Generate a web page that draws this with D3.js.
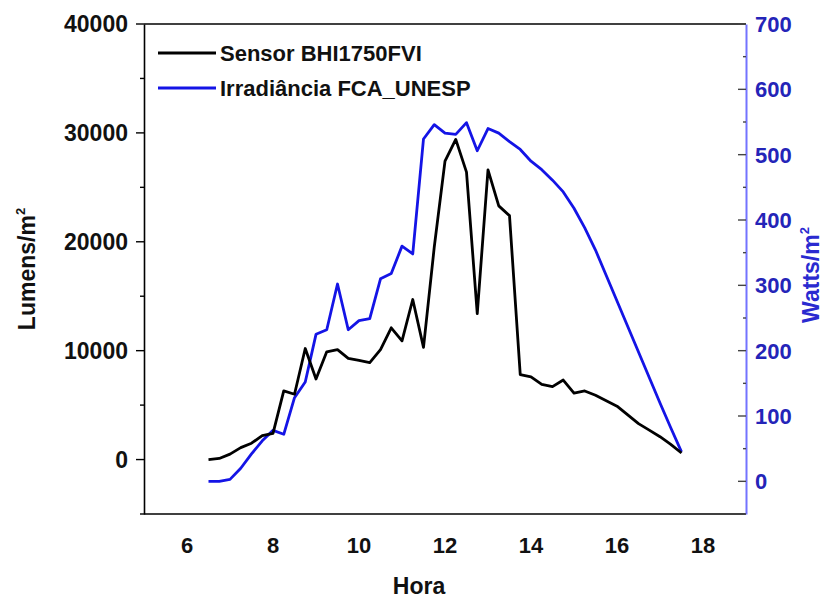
<!DOCTYPE html>
<html><head><meta charset="utf-8">
<script src="https://cdn.jsdelivr.net/npm/d3@7"></script>
<style>body{margin:0;background:#fff}svg{display:block}text{font-family:"Liberation Sans",Arial,sans-serif;font-weight:bold}</style>
</head><body>
<svg id="c" width="832" height="599"></svg>
<script>
const hours = [6.5,6.75,7,7.25,7.5,7.75,8,8.25,8.5,8.75,9,9.25,9.5,9.75,10,10.25,10.5,10.75,11,11.25,11.5,11.75,12,12.25,12.5,12.75,13,13.25,13.5,13.75,14,14.25,14.5,14.75,15,15.25,15.5,15.75,16,16.25,16.5,16.75,17,17.25,17.5];
const sensorLumens = [0,100,500,1100,1500,2200,2400,6300,6000,10200,7400,9900,10100,9300,9100,8900,10100,12100,10900,14700,10300,19500,27400,29400,26400,13400,26600,23300,22400,7800,7600,6900,6700,7300,6100,6300,5900,5400,4900,4100,3300,2700,2100,1400,600];
const irradianceWatts = [0,0,3,20,42,62,78,72,128,152,225,232,302,232,246,249,310,318,360,348,524,546,533,531,549,506,540,533,520,508,490,477,461,443,418,388,354,315,276,237,198,159,120,82,45];
const xTicks = [6,8,10,12,14,16,18];
const leftTicks = [0,10000,20000,30000,40000];
const rightTicks = [0,100,200,300,400,500,600,700];
const seriesNames = ["Sensor BHI1750FVI","Irradiância FCA_UNESP"];

const svg = d3.select("#c");
const L=144, R=746, T=24, B=514;
const x = d3.scaleLinear().domain([5,19]).range([L,R]);
const yL = d3.scaleLinear().domain([-5000,40000]).range([B,T]);
const yR = d3.scaleLinear().domain([-50,700]).range([B,T]);
const blue = "#1414e6", axisBlue = "#7373ff", labelBlue = "#2424b8";

// lines
const lineL = d3.line().x((d,i)=>x(hours[i])).y(d=>yL(d));
const lineR = d3.line().x((d,i)=>x(hours[i])).y(d=>yR(d));
svg.append("path").attr("d",lineR(irradianceWatts)).attr("fill","none").attr("stroke",blue).attr("stroke-width",2.8).attr("stroke-linejoin","round");
svg.append("path").attr("d",lineL(sensorLumens)).attr("fill","none").attr("stroke","#000").attr("stroke-width",2.8).attr("stroke-linejoin","round");

// frame top and bottom
svg.append("line").attr("x1",L).attr("x2",R).attr("y1",T).attr("y2",T).attr("stroke","#000").attr("stroke-width",1.6);
svg.append("line").attr("x1",L).attr("x2",R).attr("y1",B).attr("y2",B).attr("stroke","#000").attr("stroke-width",1.6);

// left axis
const gL = svg.append("g").attr("transform",`translate(${L},0)`);
gL.call(d3.axisLeft(yL).tickValues(d3.range(-5000,40001,5000)).tickSize(0).tickFormat(""));
gL.selectAll(".tick line").remove();
gL.select(".domain").attr("stroke","#000").attr("stroke-width",1.6);
d3.range(-5000,40001,5000).forEach(v=>{
  const major = leftTicks.includes(v);
  gL.append("line").attr("x1",0).attr("x2",major?-8:-4).attr("y1",yL(v)).attr("y2",yL(v)).attr("stroke","#000").attr("stroke-width",1.4);
});
gL.selectAll(".lt").data(leftTicks).join("text").attr("x",-16).attr("y",d=>yL(d)).attr("dy","0.36em")
  .attr("text-anchor","end").attr("font-size",23).attr("fill","#111").text(d=>d);

// right axis
const gR = svg.append("g").attr("transform",`translate(${R},0)`);
gR.call(d3.axisRight(yR).tickValues([]).tickSize(0));
gR.select(".domain").attr("stroke",axisBlue).attr("stroke-width",2);
d3.range(-50,701,50).forEach(v=>{
  const major = rightTicks.includes(v);
  gR.append("line").attr("x1",0).attr("x2",major?-8:-3).attr("y1",yR(v)).attr("y2",yR(v)).attr("stroke","#444").attr("stroke-width",1.4);
});
gR.selectAll(".rt").data(rightTicks).join("text").attr("x",9).attr("y",d=>yR(d)).attr("dy","0.36em")
  .attr("text-anchor","start").attr("font-size",22).attr("fill",labelBlue).text(d=>d);

// x tick labels
svg.selectAll(".xt").data(xTicks).join("text").attr("x",d=>x(d)).attr("y",553)
  .attr("text-anchor","middle").attr("font-size",22).attr("fill","#111").text(d=>d);

// axis titles
svg.append("text").attr("x",x(12)-26).attr("y",594).attr("text-anchor","middle").attr("font-size",23).attr("fill","#111").text("Hora");
const tl = svg.append("text").attr("transform",`translate(35,${(T+B)/2}) rotate(-90)`).attr("text-anchor","middle").attr("font-size",23).attr("fill","#111");
tl.append("tspan").text("Lumens/m");
tl.append("tspan").attr("font-size",13).attr("dy","-0.8em").text("2");
const tr = svg.append("text").attr("transform",`translate(819,${(T+B)/2+6}) rotate(-90)`).attr("text-anchor","middle").attr("font-size",23).attr("fill","#2a2ad0");
tr.append("tspan").text("Watts/m");
tr.append("tspan").attr("font-size",13).attr("dy","-0.8em").text("2");

// legend
const lg = svg.append("g");
[["#000",53],[blue,88]].forEach(([c,yy],i)=>{
  lg.append("line").attr("x1",158).attr("x2",216).attr("y1",yy).attr("y2",yy).attr("stroke",c).attr("stroke-width",2.8);
  lg.append("text").attr("x",220).attr("y",yy).attr("dy","0.36em").attr("font-size",22).attr("fill","#111").text(seriesNames[i]);
});
</script>
</body></html>
